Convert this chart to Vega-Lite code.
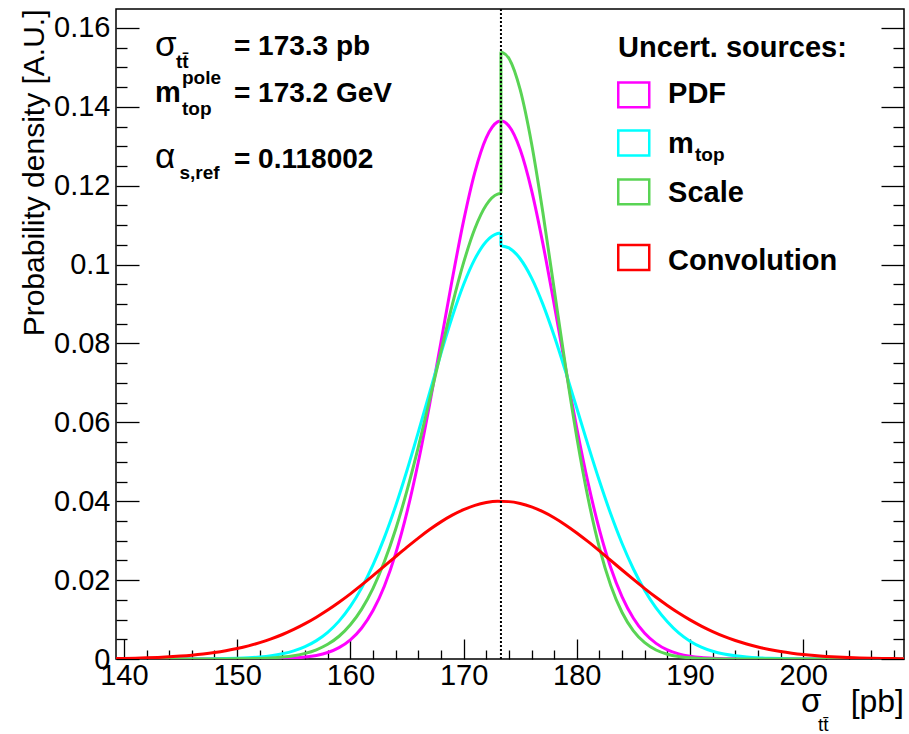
{
  "$schema": "https://vega.github.io/schema/vega-lite/v6.json",
  "width": 788,
  "height": 650,
  "autosize": {"type": "none"},
  "padding": {"left": 116, "top": 9, "right": 5, "bottom": 75},
  "background": "white",
  "config": {
    "view": {"stroke": "#000", "strokeWidth": 1.5},
    "font": "Liberation Sans",
    "axis": {"grid": false, "domain": false, "labelFont": "Liberation Sans", "labelFontSize": 29, "labelColor": "#000", "tickColor": "#000", "tickWidth": 1.3, "titleColor": "#000"}
  },
  "datasets": {
    "one": [{}],
    "curves": [
      {"s":"PDF","g":"P","x":139.3,"y":0},{"s":"PDF","g":"P","x":148,"y":0},{"s":"PDF","g":"P","x":150,"y":0.000005},{"s":"PDF","g":"P","x":152,"y":0.000026},{"s":"PDF","g":"P","x":153,"y":0.000058},{"s":"PDF","g":"P","x":154,"y":0.000122},{"s":"PDF","g":"P","x":155,"y":0.000247},{"s":"PDF","g":"P","x":156,"y":0.000484},{"s":"PDF","g":"P","x":157,"y":0.000911},{"s":"PDF","g":"P","x":158,"y":0.00165},{"s":"PDF","g":"P","x":159,"y":0.00289},{"s":"PDF","g":"P","x":160,"y":0.00486},{"s":"PDF","g":"P","x":161,"y":0.00787},{"s":"PDF","g":"P","x":162,"y":0.01229},{"s":"PDF","g":"P","x":163,"y":0.01846},{"s":"PDF","g":"P","x":164,"y":0.02671},{"s":"PDF","g":"P","x":165,"y":0.03722},{"s":"PDF","g":"P","x":166,"y":0.04995},{"s":"PDF","g":"P","x":167,"y":0.06455},{"s":"PDF","g":"P","x":168,"y":0.08033},{"s":"PDF","g":"P","x":169,"y":0.09626},{"s":"PDF","g":"P","x":170,"y":0.11108},{"s":"PDF","g":"P","x":171,"y":0.12346},{"s":"PDF","g":"P","x":172,"y":0.13212},{"s":"PDF","g":"P","x":173,"y":0.13617},{"s":"PDF","g":"P","x":173.3,"y":0.1364},{"s":"PDF","g":"P","x":174,"y":0.13515},{"s":"PDF","g":"P","x":175,"y":0.12917},{"s":"PDF","g":"P","x":176,"y":0.11889},{"s":"PDF","g":"P","x":177,"y":0.10537},{"s":"PDF","g":"P","x":178,"y":0.08994},{"s":"PDF","g":"P","x":179,"y":0.07393},{"s":"PDF","g":"P","x":180,"y":0.05852},{"s":"PDF","g":"P","x":181,"y":0.0446},{"s":"PDF","g":"P","x":182,"y":0.03274},{"s":"PDF","g":"P","x":183,"y":0.02315},{"s":"PDF","g":"P","x":184,"y":0.01576},{"s":"PDF","g":"P","x":185,"y":0.01033},{"s":"PDF","g":"P","x":186,"y":0.00652},{"s":"PDF","g":"P","x":187,"y":0.00397},{"s":"PDF","g":"P","x":188,"y":0.00232},{"s":"PDF","g":"P","x":189,"y":0.00131},{"s":"PDF","g":"P","x":190,"y":0.00071},{"s":"PDF","g":"P","x":191,"y":0.00037},{"s":"PDF","g":"P","x":192,"y":0.00019},{"s":"PDF","g":"P","x":193,"y":0.00009},{"s":"PDF","g":"P","x":194,"y":0.00004},{"s":"PDF","g":"P","x":196,"y":0},{"s":"PDF","g":"P","x":208.9,"y":0},

      {"s":"mtop","g":"ML","x":139.3,"y":0},{"s":"mtop","g":"ML","x":144,"y":0},{"s":"mtop","g":"ML","x":145,"y":0.000008},{"s":"mtop","g":"ML","x":146,"y":0.000016},{"s":"mtop","g":"ML","x":147,"y":0.00003},{"s":"mtop","g":"ML","x":148,"y":0.000055},{"s":"mtop","g":"ML","x":149,"y":0.0001},{"s":"mtop","g":"ML","x":150,"y":0.000175},{"s":"mtop","g":"ML","x":151,"y":0.0003},{"s":"mtop","g":"ML","x":152,"y":0.000503},{"s":"mtop","g":"ML","x":153,"y":0.000823},{"s":"mtop","g":"ML","x":154,"y":0.00132},{"s":"mtop","g":"ML","x":155,"y":0.00205},{"s":"mtop","g":"ML","x":156,"y":0.00313},{"s":"mtop","g":"ML","x":157,"y":0.00466},{"s":"mtop","g":"ML","x":158,"y":0.00677},{"s":"mtop","g":"ML","x":159,"y":0.0096},{"s":"mtop","g":"ML","x":160,"y":0.01332},{"s":"mtop","g":"ML","x":161,"y":0.01803},{"s":"mtop","g":"ML","x":162,"y":0.02384},{"s":"mtop","g":"ML","x":163,"y":0.03077},{"s":"mtop","g":"ML","x":164,"y":0.0388},{"s":"mtop","g":"ML","x":165,"y":0.04779},{"s":"mtop","g":"ML","x":166,"y":0.05749},{"s":"mtop","g":"ML","x":167,"y":0.06752},{"s":"mtop","g":"ML","x":168,"y":0.07746},{"s":"mtop","g":"ML","x":169,"y":0.08678},{"s":"mtop","g":"ML","x":170,"y":0.09494},{"s":"mtop","g":"ML","x":171,"y":0.10144},{"s":"mtop","g":"ML","x":172,"y":0.10586},{"s":"mtop","g":"ML","x":173,"y":0.10788},{"s":"mtop","g":"ML","x":173.3,"y":0.108},
      {"s":"mtop","g":"MJ","x":173.3,"y":0.108},{"s":"mtop","g":"MJ","x":173.3,"y":0.1048},
      {"s":"mtop","g":"MR","x":173.3,"y":0.1048},{"s":"mtop","g":"MR","x":174,"y":0.10423},{"s":"mtop","g":"MR","x":175,"y":0.10148},{"s":"mtop","g":"MR","x":176,"y":0.09663},{"s":"mtop","g":"MR","x":177,"y":0.08998},{"s":"mtop","g":"MR","x":178,"y":0.08195},{"s":"mtop","g":"MR","x":179,"y":0.07298},{"s":"mtop","g":"MR","x":180,"y":0.06357},{"s":"mtop","g":"MR","x":181,"y":0.05415},{"s":"mtop","g":"MR","x":182,"y":0.04511},{"s":"mtop","g":"MR","x":183,"y":0.03675},{"s":"mtop","g":"MR","x":184,"y":0.02928},{"s":"mtop","g":"MR","x":185,"y":0.02282},{"s":"mtop","g":"MR","x":186,"y":0.01739},{"s":"mtop","g":"MR","x":187,"y":0.01295},{"s":"mtop","g":"MR","x":188,"y":0.00944},{"s":"mtop","g":"MR","x":189,"y":0.00660},{"s":"mtop","g":"MR","x":190,"y":0.00450},{"s":"mtop","g":"MR","x":191,"y":0.00300},{"s":"mtop","g":"MR","x":192,"y":0.00195},{"s":"mtop","g":"MR","x":193,"y":0.00125},{"s":"mtop","g":"MR","x":194,"y":0.0008},{"s":"mtop","g":"MR","x":195,"y":0.0005},{"s":"mtop","g":"MR","x":196,"y":0.0003},{"s":"mtop","g":"MR","x":197,"y":0.00018},{"s":"mtop","g":"MR","x":198,"y":0.0001},{"s":"mtop","g":"MR","x":199,"y":0.00006},{"s":"mtop","g":"MR","x":200,"y":0.00003},{"s":"mtop","g":"MR","x":202,"y":0},{"s":"mtop","g":"MR","x":208.9,"y":0},

      {"s":"Scale","g":"SL","x":139.3,"y":0},{"s":"Scale","g":"SL","x":147,"y":0},{"s":"Scale","g":"SL","x":148,"y":0.000009},{"s":"Scale","g":"SL","x":149,"y":0.000019},{"s":"Scale","g":"SL","x":150,"y":0.000039},{"s":"Scale","g":"SL","x":151,"y":0.000076},{"s":"Scale","g":"SL","x":152,"y":0.000145},{"s":"Scale","g":"SL","x":153,"y":0.000269},{"s":"Scale","g":"SL","x":154,"y":0.000483},{"s":"Scale","g":"SL","x":155,"y":0.00084},{"s":"Scale","g":"SL","x":156,"y":0.00142},{"s":"Scale","g":"SL","x":157,"y":0.00234},{"s":"Scale","g":"SL","x":158,"y":0.00372},{"s":"Scale","g":"SL","x":159,"y":0.00577},{"s":"Scale","g":"SL","x":160,"y":0.00867},{"s":"Scale","g":"SL","x":161,"y":0.01265},{"s":"Scale","g":"SL","x":162,"y":0.01791},{"s":"Scale","g":"SL","x":163,"y":0.02465},{"s":"Scale","g":"SL","x":164,"y":0.03291},{"s":"Scale","g":"SL","x":165,"y":0.04268},{"s":"Scale","g":"SL","x":166,"y":0.05374},{"s":"Scale","g":"SL","x":167,"y":0.06568},{"s":"Scale","g":"SL","x":168,"y":0.07795},{"s":"Scale","g":"SL","x":169,"y":0.08981},{"s":"Scale","g":"SL","x":170,"y":0.10048},{"s":"Scale","g":"SL","x":171,"y":0.10914},{"s":"Scale","g":"SL","x":172,"y":0.1151},{"s":"Scale","g":"SL","x":173,"y":0.11785},{"s":"Scale","g":"SL","x":173.3,"y":0.118},
      {"s":"Scale","g":"SJ","x":173.3,"y":0.118},{"s":"Scale","g":"SJ","x":173.3,"y":0.154},
      {"s":"Scale","g":"SR","x":173.3,"y":0.154},{"s":"Scale","g":"SR","x":174,"y":0.15232},{"s":"Scale","g":"SR","x":175,"y":0.14433},{"s":"Scale","g":"SR","x":176,"y":0.13076},{"s":"Scale","g":"SR","x":177,"y":0.11327},{"s":"Scale","g":"SR","x":178,"y":0.0938},{"s":"Scale","g":"SR","x":179,"y":0.07427},{"s":"Scale","g":"SR","x":180,"y":0.05624},{"s":"Scale","g":"SR","x":181,"y":0.0407},{"s":"Scale","g":"SR","x":182,"y":0.02817},{"s":"Scale","g":"SR","x":183,"y":0.01865},{"s":"Scale","g":"SR","x":184,"y":0.0118},{"s":"Scale","g":"SR","x":185,"y":0.00714},{"s":"Scale","g":"SR","x":186,"y":0.00413},{"s":"Scale","g":"SR","x":187,"y":0.00228},{"s":"Scale","g":"SR","x":188,"y":0.00121},{"s":"Scale","g":"SR","x":189,"y":0.00061},{"s":"Scale","g":"SR","x":190,"y":0.00029},{"s":"Scale","g":"SR","x":191,"y":0.00014},{"s":"Scale","g":"SR","x":192,"y":0.00006},{"s":"Scale","g":"SR","x":194,"y":0},{"s":"Scale","g":"SR","x":208.9,"y":0},

      {"s":"Conv","g":"C","x":139.3,"y":0.00012},{"s":"Conv","g":"C","x":140,"y":0.000156},{"s":"Conv","g":"C","x":141,"y":0.000217},{"s":"Conv","g":"C","x":142,"y":0.000298},{"s":"Conv","g":"C","x":143,"y":0.000406},{"s":"Conv","g":"C","x":144,"y":0.000547},{"s":"Conv","g":"C","x":145,"y":0.00073},{"s":"Conv","g":"C","x":146,"y":0.000963},{"s":"Conv","g":"C","x":147,"y":0.00126},{"s":"Conv","g":"C","x":148,"y":0.00163},{"s":"Conv","g":"C","x":149,"y":0.00209},{"s":"Conv","g":"C","x":150,"y":0.00265},{"s":"Conv","g":"C","x":151,"y":0.00333},{"s":"Conv","g":"C","x":152,"y":0.00414},{"s":"Conv","g":"C","x":153,"y":0.0051},{"s":"Conv","g":"C","x":154,"y":0.00621},{"s":"Conv","g":"C","x":155,"y":0.0075},{"s":"Conv","g":"C","x":156,"y":0.00896},{"s":"Conv","g":"C","x":157,"y":0.0106},{"s":"Conv","g":"C","x":158,"y":0.01241},{"s":"Conv","g":"C","x":159,"y":0.01439},{"s":"Conv","g":"C","x":160,"y":0.01652},{"s":"Conv","g":"C","x":161,"y":0.01878},{"s":"Conv","g":"C","x":162,"y":0.02113},{"s":"Conv","g":"C","x":163,"y":0.02354},{"s":"Conv","g":"C","x":164,"y":0.02597},{"s":"Conv","g":"C","x":165,"y":0.02836},{"s":"Conv","g":"C","x":166,"y":0.03066},{"s":"Conv","g":"C","x":167,"y":0.03282},{"s":"Conv","g":"C","x":168,"y":0.03477},{"s":"Conv","g":"C","x":169,"y":0.03647},{"s":"Conv","g":"C","x":170,"y":0.03788},{"s":"Conv","g":"C","x":171,"y":0.03896},{"s":"Conv","g":"C","x":172,"y":0.03966},{"s":"Conv","g":"C","x":173,"y":0.03998},{"s":"Conv","g":"C","x":174,"y":0.0399},{"s":"Conv","g":"C","x":175,"y":0.03943},{"s":"Conv","g":"C","x":176,"y":0.03857},{"s":"Conv","g":"C","x":177,"y":0.03735},{"s":"Conv","g":"C","x":178,"y":0.03582},{"s":"Conv","g":"C","x":179,"y":0.034},{"s":"Conv","g":"C","x":180,"y":0.03196},{"s":"Conv","g":"C","x":181,"y":0.02974},{"s":"Conv","g":"C","x":182,"y":0.0274},{"s":"Conv","g":"C","x":183,"y":0.02499},{"s":"Conv","g":"C","x":184,"y":0.02256},{"s":"Conv","g":"C","x":185,"y":0.02018},{"s":"Conv","g":"C","x":186,"y":0.01786},{"s":"Conv","g":"C","x":187,"y":0.01565},{"s":"Conv","g":"C","x":188,"y":0.01358},{"s":"Conv","g":"C","x":189,"y":0.01166},{"s":"Conv","g":"C","x":190,"y":0.00992},{"s":"Conv","g":"C","x":191,"y":0.00835},{"s":"Conv","g":"C","x":192,"y":0.00696},{"s":"Conv","g":"C","x":193,"y":0.00574},{"s":"Conv","g":"C","x":194,"y":0.0047},{"s":"Conv","g":"C","x":195,"y":0.0038},{"s":"Conv","g":"C","x":196,"y":0.00304},{"s":"Conv","g":"C","x":197,"y":0.00241},{"s":"Conv","g":"C","x":198,"y":0.00189},{"s":"Conv","g":"C","x":199,"y":0.00147},{"s":"Conv","g":"C","x":200,"y":0.00113},{"s":"Conv","g":"C","x":201,"y":0.00086},{"s":"Conv","g":"C","x":202,"y":0.00065},{"s":"Conv","g":"C","x":203,"y":0.00049},{"s":"Conv","g":"C","x":204,"y":0.00036},{"s":"Conv","g":"C","x":205,"y":0.00026},{"s":"Conv","g":"C","x":206,"y":0.00019},{"s":"Conv","g":"C","x":207,"y":0.00014},{"s":"Conv","g":"C","x":208,"y":0.0001},{"s":"Conv","g":"C","x":208.9,"y":0.00008}
    ]
  },
  "layer": [
    {
      "data": {"name": "curves"},
      "mark": {"type": "line", "interpolate": "monotone", "strokeWidth": 3, "clip": true},
      "encoding": {
        "x": {"field": "x", "type": "quantitative",
              "scale": {"domain": [139.3, 208.9], "nice": false, "zero": false},
              "axis": {"orient": "bottom", "values": [140,150,160,170,180,190,200], "tickSize": -20, "labelPadding": 22, "title": null}},
        "y": {"field": "y", "type": "quantitative",
              "scale": {"domain": [0, 0.1648], "nice": false, "zero": false},
              "axis": {"orient": "left", "values": [0,0.02,0.04,0.06,0.08,0.1,0.12,0.14,0.16], "format": ".2~f", "tickSize": -23, "labelPadding": 29,
                       "title": "Probability density [A.U.]", "titleFont": "Liberation Sans", "titleFontSize": 30, "titleFontWeight": "normal",
                       "titleAngle": -90, "titleX": -82, "titleY": 0, "titleAlign": "right", "titleBaseline": "middle"}},
        "color": {"field": "s", "type": "nominal",
                  "scale": {"domain": ["PDF", "mtop", "Scale", "Conv"], "range": ["#ff00ff", "#00ffff", "#59d454", "#ff0000"]},
                  "legend": null},
        "detail": {"field": "g"}
      }
    },
    {
      "data": {"name": "one"},
      "mark": {"type": "rule", "strokeDash": [2, 2], "strokeWidth": 2, "color": "#000"},
      "encoding": {
        "x": {"datum": 173.3, "type": "quantitative",
              "axis": {"orient": "bottom", "values": [142,144,146,148,152,154,156,158,162,164,166,168,172,174,176,178,182,184,186,188,192,194,196,198,202,204,206,208], "tickSize": -9, "labels": false, "title": null}},
        "y": {"datum": 0, "type": "quantitative",
              "axis": {"orient": "left", "values": [0.005,0.01,0.015,0.025,0.03,0.035,0.045,0.05,0.055,0.065,0.07,0.075,0.085,0.09,0.095,0.105,0.11,0.115,0.125,0.13,0.135,0.145,0.15,0.155], "tickSize": -11, "labels": false, "title": null}},
        "y2": {"datum": 0.1648}
      }
    },
    {
      "data": {"name": "one"},
      "mark": {"type": "text", "text": "σ", "align": "left", "baseline": "alphabetic", "font": "Liberation Sans", "fontSize": 35},
      "encoding": {
        "x": {"datum": 142.745, "type": "quantitative", "axis": null},
        "y": {"datum": 0.15288, "type": "quantitative",
              "axis": {"orient": "right", "values": [0,0.02,0.04,0.06,0.08,0.1,0.12,0.14,0.16], "tickSize": -23, "labels": false, "title": null}}
      }
    },
    {
      "data": {"name": "one"},
      "mark": {"type": "text", "text": "tt̄", "align": "left", "baseline": "alphabetic", "fontSize": 19, "fontWeight": "bold"},
      "encoding": {
        "x": {"datum": 144.6, "type": "quantitative", "axis": null},
        "y": {"datum": 0.14984, "type": "quantitative",
              "axis": {"orient": "right", "values": [0.005,0.01,0.015,0.025,0.03,0.035,0.045,0.05,0.055,0.065,0.07,0.075,0.085,0.09,0.095,0.105,0.11,0.115,0.125,0.13,0.135,0.145,0.15,0.155], "tickSize": -11, "labels": false, "title": null}}
      }
    },
    {
      "data": {"name": "one"},
      "mark": {"type": "text", "text": "= 173.3 pb", "align": "left", "baseline": "alphabetic", "fontSize": 28, "fontWeight": "bold"},
      "encoding": {"x": {"datum": 149.72, "type": "quantitative", "axis": null}, "y": {"datum": 0.15314, "type": "quantitative", "axis": null}}
    },
    {
      "data": {"name": "one"},
      "mark": {"type": "text", "text": "m", "align": "left", "baseline": "alphabetic", "fontSize": 29, "fontWeight": "bold"},
      "encoding": {"x": {"datum": 142.745, "type": "quantitative", "axis": null}, "y": {"datum": 0.14122, "type": "quantitative", "axis": null}}
    },
    {
      "data": {"name": "one"},
      "mark": {"type": "text", "text": "pole", "align": "left", "baseline": "alphabetic", "fontSize": 19, "fontWeight": "bold"},
      "encoding": {"x": {"datum": 145.13, "type": "quantitative", "axis": null}, "y": {"datum": 0.14585, "type": "quantitative", "axis": null}}
    },
    {
      "data": {"name": "one"},
      "mark": {"type": "text", "text": "top", "align": "left", "baseline": "alphabetic", "fontSize": 19, "fontWeight": "bold"},
      "encoding": {"x": {"datum": 145.13, "type": "quantitative", "axis": null}, "y": {"datum": 0.13792, "type": "quantitative", "axis": null}}
    },
    {
      "data": {"name": "one"},
      "mark": {"type": "text", "text": "= 173.2 GeV", "align": "left", "baseline": "alphabetic", "fontSize": 28, "fontWeight": "bold"},
      "encoding": {"x": {"datum": 149.72, "type": "quantitative", "axis": null}, "y": {"datum": 0.14122, "type": "quantitative", "axis": null}}
    },
    {
      "data": {"name": "one"},
      "mark": {"type": "text", "text": "α", "align": "left", "baseline": "alphabetic", "font": "Liberation Sans", "fontSize": 35},
      "encoding": {"x": {"datum": 142.745, "type": "quantitative", "axis": null}, "y": {"datum": 0.12449, "type": "quantitative", "axis": null}}
    },
    {
      "data": {"name": "one"},
      "mark": {"type": "text", "text": "s,ref", "align": "left", "baseline": "alphabetic", "fontSize": 19, "fontWeight": "bold"},
      "encoding": {"x": {"datum": 144.9, "type": "quantitative", "axis": null}, "y": {"datum": 0.1217, "type": "quantitative", "axis": null}}
    },
    {
      "data": {"name": "one"},
      "mark": {"type": "text", "text": "= 0.118002", "align": "left", "baseline": "alphabetic", "fontSize": 28, "fontWeight": "bold"},
      "encoding": {"x": {"datum": 149.72, "type": "quantitative", "axis": null}, "y": {"datum": 0.12449, "type": "quantitative", "axis": null}}
    },
    {
      "data": {"name": "one"},
      "mark": {"type": "text", "text": "Uncert. sources:", "align": "left", "baseline": "alphabetic", "fontSize": 29, "fontWeight": "bold"},
      "encoding": {"x": {"datum": 183.64, "type": "quantitative", "axis": null}, "y": {"datum": 0.15263, "type": "quantitative", "axis": null}}
    },
    {
      "data": {"name": "one"},
      "mark": {"type": "point", "shape": "M-1,-0.8H1V0.8H-1Z", "size": 961, "filled": false, "strokeWidth": 2.5, "opacity": 1, "color": "#ff00ff"},
      "encoding": {"x": {"datum": 185.03, "type": "quantitative", "axis": null}, "y": {"datum": 0.14305, "type": "quantitative", "axis": null}}
    },
    {
      "data": {"name": "one"},
      "mark": {"type": "point", "shape": "M-1,-0.8H1V0.8H-1Z", "size": 961, "filled": false, "strokeWidth": 2.5, "opacity": 1, "color": "#00ffff"},
      "encoding": {"x": {"datum": 185.03, "type": "quantitative", "axis": null}, "y": {"datum": 0.13082, "type": "quantitative", "axis": null}}
    },
    {
      "data": {"name": "one"},
      "mark": {"type": "point", "shape": "M-1,-0.8H1V0.8H-1Z", "size": 961, "filled": false, "strokeWidth": 2.5, "opacity": 1, "color": "#59d454"},
      "encoding": {"x": {"datum": 185.03, "type": "quantitative", "axis": null}, "y": {"datum": 0.11845, "type": "quantitative", "axis": null}}
    },
    {
      "data": {"name": "one"},
      "mark": {"type": "point", "shape": "M-1,-0.8H1V0.8H-1Z", "size": 961, "filled": false, "strokeWidth": 2.5, "opacity": 1, "color": "#ff0000"},
      "encoding": {"x": {"datum": 185.03, "type": "quantitative", "axis": null}, "y": {"datum": 0.1018, "type": "quantitative", "axis": null}}
    },
    {
      "data": {"name": "one"},
      "mark": {"type": "text", "text": "PDF", "align": "left", "baseline": "alphabetic", "fontSize": 29, "fontWeight": "bold"},
      "encoding": {"x": {"datum": 188.06, "type": "quantitative", "axis": null}, "y": {"datum": 0.14097, "type": "quantitative", "axis": null}}
    },
    {
      "data": {"name": "one"},
      "mark": {"type": "text", "text": "m", "align": "left", "baseline": "alphabetic", "fontSize": 29, "fontWeight": "bold"},
      "encoding": {"x": {"datum": 188.06, "type": "quantitative", "axis": null}, "y": {"datum": 0.12829, "type": "quantitative", "axis": null}}
    },
    {
      "data": {"name": "one"},
      "mark": {"type": "text", "text": "top", "align": "left", "baseline": "alphabetic", "fontSize": 19, "fontWeight": "bold"},
      "encoding": {"x": {"datum": 190.44, "type": "quantitative", "axis": null}, "y": {"datum": 0.12626, "type": "quantitative", "axis": null}}
    },
    {
      "data": {"name": "one"},
      "mark": {"type": "text", "text": "Scale", "align": "left", "baseline": "alphabetic", "fontSize": 29, "fontWeight": "bold"},
      "encoding": {"x": {"datum": 188.06, "type": "quantitative", "axis": null}, "y": {"datum": 0.11587, "type": "quantitative", "axis": null}}
    },
    {
      "data": {"name": "one"},
      "mark": {"type": "text", "text": "Convolution", "align": "left", "baseline": "alphabetic", "fontSize": 29, "fontWeight": "bold"},
      "encoding": {"x": {"datum": 188.06, "type": "quantitative", "axis": null}, "y": {"datum": 0.09863, "type": "quantitative", "axis": null}}
    },
    {
      "data": {"name": "one"},
      "mark": {"type": "text", "text": "σ", "align": "left", "baseline": "alphabetic", "font": "Liberation Sans", "fontSize": 33},
      "encoding": {"x": {"datum": 199.8, "type": "quantitative", "axis": null}, "y": {"datum": -0.01344, "type": "quantitative", "axis": null}}
    },
    {
      "data": {"name": "one"},
      "mark": {"type": "text", "text": "tt̄", "align": "left", "baseline": "alphabetic", "fontSize": 19},
      "encoding": {"x": {"datum": 201.3, "type": "quantitative", "axis": null}, "y": {"datum": -0.01825, "type": "quantitative", "axis": null}}
    },
    {
      "data": {"name": "one"},
      "mark": {"type": "text", "text": "[pb]", "align": "right", "baseline": "alphabetic", "fontSize": 32},
      "encoding": {"x": {"datum": 208.9, "type": "quantitative", "axis": null}, "y": {"datum": -0.01344, "type": "quantitative", "axis": null}}
    }
  ],
  "resolve": {"axis": {"x": "independent", "y": "independent"}}
}
